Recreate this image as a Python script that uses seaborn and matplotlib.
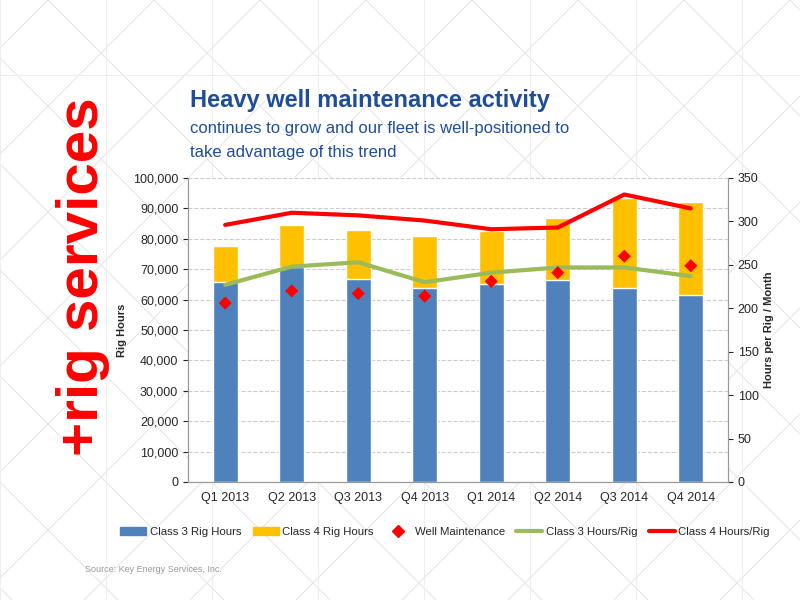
import numpy as np
import pandas as pd
import matplotlib
matplotlib.use("Agg")
import matplotlib.pyplot as plt
import seaborn as sns
from matplotlib.lines import Line2D
from matplotlib.patches import Patch

quarters = ["Q1 2013", "Q2 2013", "Q3 2013", "Q4 2013", "Q1 2014", "Q2 2014", "Q3 2014", "Q4 2014"]
class3_hours = [65700, 70800, 66800, 63800, 65100, 66400, 63800, 61400]
total_hours = [77700, 84500, 82900, 80800, 82600, 86700, 93300, 92000]
well_maint = [206, 220, 217, 214, 231, 241, 260, 249]
class3_per_rig = [227, 248, 253, 230, 241, 247, 247, 237]
class4_per_rig = [296, 310, 307, 301, 291, 293, 331, 315]

sns.set_style("white")
plt.rcParams['font.family'] = ['Liberation Sans', 'DejaVu Sans']

fig = plt.figure(figsize=(8, 6), dpi=100)

# faint diamond background pattern
bg = fig.add_axes([0, 0, 1, 1], zorder=-1)
bg.set_xlim(0, 800); bg.set_ylim(600, 0); bg.axis("off")
for k in range(-800, 1600, 106):
    bg.plot([k, k + 600], [0, 600], color="#e8e8e8", lw=0.8)
    bg.plot([k, k - 600], [0, 600], color="#e8e8e8", lw=0.8)
for x in range(0, 800, 106):
    bg.plot([x, x], [0, 600], color="#eeeeee", lw=0.8)
bg.plot([0, 800], [75, 75], color="#eeeeee", lw=0.8)

ax = fig.add_axes([188 / 800, 118 / 600, 540 / 800, 304 / 600])
ax.set_facecolor("white")
df = pd.DataFrame({"q": quarters, "c3": class3_hours, "tot": total_hours})
sns.barplot(data=df, x="q", y="tot", color="#FFC000", width=0.38, ax=ax, saturation=1)
sns.barplot(data=df, x="q", y="c3", color="#4F81BD", width=0.38, ax=ax, saturation=1)
ax.set_ylim(0, 100000)
ax.set_yticks(range(0, 100001, 10000))
ax.set_yticklabels([f"{v:,}" for v in range(0, 100001, 10000)], fontsize=9)
ax.tick_params(axis="x", labelsize=9)
ax.set_xlabel("")
ax.set_ylabel("Rig Hours", fontsize=8, fontweight="bold")
ax.yaxis.grid(True, ls="--", color="#cccccc")
ax.set_axisbelow(True)
ax.spines["top"].set_visible(False)
for s in ["left", "bottom", "right"]:
    ax.spines[s].set_color("#999999")

ax2 = ax.twinx()
x = np.arange(len(quarters))
sns.lineplot(x=x, y=class3_per_rig, color="#9BBB59", lw=3, ax=ax2)
sns.lineplot(x=x, y=class4_per_rig, color="#FF0000", lw=3, ax=ax2)
sns.scatterplot(x=x, y=well_maint, color="#FF0000", marker="D", s=45, ax=ax2, zorder=5, edgecolor="none")
ax2.set_ylim(0, 350)
ax2.set_yticks(range(0, 351, 50))
ax2.tick_params(labelsize=9)
ax2.set_ylabel("Hours per Rig / Month", fontsize=8, fontweight="bold")
ax2.spines["top"].set_visible(False)
for s in ["left", "bottom", "right"]:
    ax2.spines[s].set_color("#999999")

handles = [Patch(color="#4F81BD"), Patch(color="#FFC000"),
           Line2D([], [], color="#FF0000", marker="D", ls="none", markersize=6),
           Line2D([], [], color="#9BBB59", lw=3), Line2D([], [], color="#FF0000", lw=3)]
labels = ["Class 3 Rig Hours", "Class 4 Rig Hours", "Well Maintenance", "Class 3 Hours/Rig", "Class 4 Hours/Rig"]
leg = fig.legend(handles, labels, loc="upper left", bbox_to_anchor=(120 / 800, 1 - 527 / 600), ncol=5,
                 frameon=False, fontsize=8.2, handlelength=2.3, handletextpad=0.3, columnspacing=1.0,
                 borderpad=0, borderaxespad=0)

fig.text(190 / 800, 1 - 100 / 600, "Heavy well maintenance activity", fontsize=17, fontweight="bold",
         color="#1F4E96", va="center")
fig.text(190 / 800, 1 - 128 / 600, "continues to grow and our fleet is well-positioned to", fontsize=12,
         color="#1F4E96", va="center")
fig.text(190 / 800, 1 - 152 / 600, "take advantage of this trend", fontsize=12, color="#1F4E96", va="center")
fig.text(83 / 800, 1 - 277 / 600, "+rig services", fontsize=42, fontweight="bold", color="#FF0000",
         rotation=90, ha="center", va="center")
fig.text(85 / 800, 1 - 570 / 600, "Source: Key Energy Services, Inc.", fontsize=6.5, color="#999999", va="center")

fig.savefig("out.png", dpi=100)
